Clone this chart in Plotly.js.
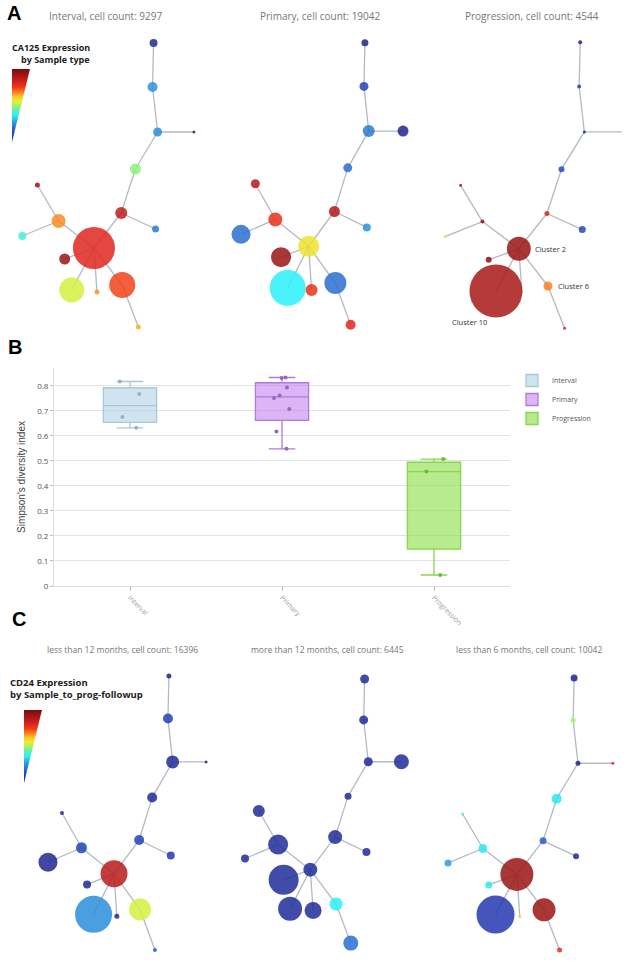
<!DOCTYPE html>
<html><head><meta charset="utf-8">
<script src="https://cdn.plot.ly/plotly-3.0.1.min.js"></script>
<style>html,body{margin:0;padding:0;background:#fff;} #chart{width:633px;height:964px;}</style>
</head><body><div id="chart"></div>
<script>
// ---------- shared tree layout (node positions) and topology ----------
const nodeX = [155,154,159,195,137,123,157,96,61,40,25,67,74,99,124,140];
const nodeY = [43,87,132,132,169,213,229,248,221,185,236,259,290,292,285,327];
const edgeFrom = [0,1,2,2,4,5,5,7,8,8,7,7,7,7,14];
const edgeTo   = [1,2,3,4,5,6,7,8,9,10,11,12,13,14,15];

// ---------- panel A: CA125 expression by sample type ----------
const panelATitles = ['Interval, cell count: 9297','Primary, cell count: 19042','Progression, cell count: 4544'];
const intervalSize    = [8,10,9,3,11,12,7,42,14,5,8,11,25,5,26,5];
const intervalExpr    = [0.05,0.26,0.25,0.02,0.48,0.86,0.22,0.80,0.67,0.93,0.40,0.93,0.54,0.66,0.74,0.64];
const primarySize     = [7,9,12,11,9,11,8,21,14,9,19,20,36,12,22,10];
const primaryExpr     = [0.03,0.12,0.22,0.04,0.20,0.88,0.26,0.58,0.77,0.88,0.20,0.93,0.36,0.77,0.20,0.80];
const progressionSize = [4,4,3,0,6,5,7,24,4,3,3,6,53,0,9,3];
const progressionExpr = [0.02,0.12,0.02,0.05,0.14,0.80,0.13,0.93,0.95,0.90,0.54,0.95,0.90,0.90,0.68,0.82];

// ---------- panel C: CD24 expression by sample-to-progression follow-up ----------
const panelCTitles = ['less than 12 months, cell count: 16396','more than 12 months, cell count: 6445','less than 6 months, cell count: 10042'];
const lt12Size = [5,10,13,3,10,10,8,27,11,4,19,8,37,5,22,4];
const lt12Expr = [0.03,0.12,0.05,0.03,0.06,0.12,0.10,0.87,0.12,0.03,0.04,0.05,0.25,0.05,0.54,0.16];
const gt12Size = [9,9,9,15,7,14,8,14,20,12,8,30,24,17,13,15];
const gt12Expr = [0.06,0.06,0.06,0.06,0.06,0.06,0.06,0.06,0.06,0.06,0.06,0.06,0.06,0.06,0.36,0.20];
const lt6Size  = [7,5,5,3,10,7,6,33,9,3,7,7,38,3,23,5];
const lt6Expr  = [0.03,0.50,0.03,0.80,0.35,0.17,0.05,0.93,0.35,0.42,0.28,0.35,0.10,0.60,0.93,0.78];

// ---------- panel B: Simpson's diversity index ----------
const boxCategories = ['Interval','Primary','Progression'];
const intervalSimpson    = [0.817,0.767,0.675,0.632];
const primarySimpson     = [0.831,0.833,0.793,0.761,0.751,0.707,0.617,0.548];
const progressionSimpson = [0.507,0.457,0.044];

// ---------- styling ----------
const W = 633, H = 964, CW = 211, CH = 345;
const jetScale = [
  [0.00,'#1c1c7a'],[0.10,'#2338b0'],[0.20,'#2a6fd0'],[0.28,'#2aa0e0'],
  [0.36,'#2af0f8'],[0.44,'#5ef0b0'],[0.50,'#a8f060'],[0.56,'#e8f030'],
  [0.62,'#f8c828'],[0.68,'#f88020'],[0.75,'#f03818'],[0.82,'#d82020'],
  [0.90,'#a81818'],[1.00,'#7a0c0c']];

function px2x(p){return p/W;}
function px2y(p){return 1-p/H;}

function netAxes(px0, py0, sx, sy){
  const dx0=Math.max(0,px0), dx1=Math.min(W,px0+CW*sx);
  const dy0=Math.max(0,py0), dy1=Math.min(H,py0+CH*sy);
  const hidden={visible:false,showgrid:false,zeroline:false,fixedrange:true};
  return {
    x:Object.assign({domain:[dx0/W,dx1/W],range:[(dx0-px0)/sx,(dx1-px0)/sx]},hidden),
    y:Object.assign({domain:[1-dy1/H,1-dy0/H],range:[(dy1-py0)/sy,(dy0-py0)/sy]},hidden)
  };
}

const panels = [
  {ax:'',  size:intervalSize,    expr:intervalExpr,    geo:[-3,0,1.01,1.0]},
  {ax:'2', size:primarySize,     expr:primaryExpr,     geo:[217.2,0,0.953,0.993]},
  {ax:'3', size:progressionSize, expr:progressionExpr, geo:[419,-1,1.04,1.007]},
  {ax:'5', size:lt12Size,        expr:lt12Expr,        geo:[24.75,634.5,0.93,0.965]},
  {ax:'6', size:gt12Size,        expr:gt12Expr,        geo:[222,639,0.92,0.93]},
  {ax:'7', size:lt6Size,         expr:lt6Expr,         geo:[423.75,636.8,0.97,0.958]}
];

const ex=[], ey=[];
edgeFrom.forEach((a,i)=>{const b=edgeTo[i]; ex.push(nodeX[a],nodeX[b],null); ey.push(nodeY[a],nodeY[b],null);});

const traces=[]; const layout={
  width:W,height:H,margin:{l:0,r:0,t:0,b:0},paper_bgcolor:'#fff',plot_bgcolor:'rgba(0,0,0,0)',
  font:{family:'Open Sans, sans-serif'},showlegend:true,boxmode:'overlay',boxgap:0.5,
  annotations:[]
};

panels.forEach(p=>{
  const g=netAxes(...p.geo);
  layout['xaxis'+p.ax]=g.x; layout['yaxis'+p.ax]=Object.assign(g.y,{anchor:'x'+p.ax});
  layout['xaxis'+p.ax].anchor='y'+p.ax;
  traces.push({type:'scatter',mode:'lines',x:ex,y:ey,xaxis:'x'+p.ax,yaxis:'y'+p.ax,
    line:{color:'rgba(168,178,190,0.9)',width:1.3},hoverinfo:'skip',showlegend:false,cliponaxis:false});
  traces.push({type:'scatter',mode:'markers',x:nodeX,y:nodeY,xaxis:'x'+p.ax,yaxis:'y'+p.ax,
    marker:{size:p.size,color:p.expr,colorscale:jetScale,cmin:0,cmax:1,opacity:0.85,line:{width:0}},
    showlegend:false,cliponaxis:false});
});

// ---------- box plot ----------
const boxStyles = [
  {line:'#a9c7da',fill:'rgba(170,205,225,0.55)',pt:'#94b4c6'},
  {line:'#b47ad6',fill:'rgba(190,120,238,0.55)',pt:'#9c66be'},
  {line:'#88d64c',fill:'rgba(135,222,65,0.6)',pt:'#6cbc34'}
];
[intervalSimpson,primarySimpson,progressionSimpson].forEach((vals,i)=>{
  traces.push({type:'box',name:boxCategories[i],y:vals,xaxis:'x4',yaxis:'y4',
    boxpoints:'all',jitter:0.45,pointpos:0,whiskerwidth:0.5,
    line:{color:boxStyles[i].line,width:1.3},fillcolor:boxStyles[i].fill,
    marker:{color:boxStyles[i].pt,size:4}});
});
layout.xaxis4={domain:[px2x(54),px2x(510)],anchor:'y4',type:'category',showgrid:false,
  ticks:'outside',ticklen:4,tickcolor:'#bbb',tickangle:45,tickfont:{size:7,color:'#999'},
  showline:true,linecolor:'#ddd',zeroline:false,fixedrange:true};
layout.yaxis4={domain:[px2y(586),px2y(368)],anchor:'x4',range:[0,0.871],dtick:0.1,tick0:0,
  gridcolor:'#e3e3e3',showline:true,linecolor:'#ddd',zeroline:false,ticks:'outside',ticklen:3,
  tickcolor:'#bbb',tickfont:{size:8,color:'#555'},fixedrange:true};
layout.legend={x:px2x(512),y:px2y(366),xanchor:'left',yanchor:'top',font:{size:7,color:'#555'},
  bgcolor:'rgba(0,0,0,0)',tracegroupgap:0,itemwidth:30};

// ---------- gradient triangles (colour keys) ----------
function triAxes(n,x0,x1,y0,y1){
  layout['xaxis'+n]={domain:[px2x(x0),px2x(x1)],range:[0,1],visible:false,anchor:'y'+n,fixedrange:true};
  layout['yaxis'+n]={domain:[px2y(y1),px2y(y0)],range:[0,1],visible:false,anchor:'x'+n,fixedrange:true};
  traces.push({type:'scatter',mode:'lines',x:[0,1,0,0],y:[1,1,0,1],fill:'toself',
    fillgradient:{type:'vertical',colorscale:jetScale},line:{width:0},
    xaxis:'x'+n,yaxis:'y'+n,hoverinfo:'skip',showlegend:false});
}
triAxes(8,12,30,69,142);
triAxes(9,24,42,710,783);

// ---------- text ----------
function ann(text,x,y,opts){layout.annotations.push(Object.assign({text:text,x:px2x(x),y:px2y(y),xref:'paper',yref:'paper',showarrow:false,xanchor:'center',yanchor:'middle'},opts||{}));}
const titleFontA={family:'Open Sans, sans-serif',size:10,color:'#777'};
const titleFontC={family:'Open Sans, sans-serif',size:8.5,color:'#777'};
[106,320,532].forEach((cx,i)=>ann(panelATitles[i],cx,16,{font:titleFontA}));
[122,328,529].forEach((cx,i)=>ann(panelCTitles[i],cx,649,{font:titleFontC}));
const panelFont={family:'Liberation Sans, Arial, sans-serif',size:20,color:'#000'};
ann('<b>A</b>',5,13,{xanchor:'left',font:panelFont});
ann('<b>B</b>',6,347,{xanchor:'left',font:panelFont});
ann('<b>C</b>',10,619,{xanchor:'left',font:panelFont});
const keyFontA={family:'Open Sans, sans-serif',size:9,color:'#222'};
const keyFontC={family:'Open Sans, sans-serif',size:9.5,color:'#222'};
ann('<b>CA125 Expression</b>',92,47,{xanchor:'right',font:keyFontA});
ann('<b>by Sample type</b>',92,59,{xanchor:'right',font:keyFontA});
ann('<b>CD24 Expression</b>',8,682,{xanchor:'left',font:keyFontC});
ann('<b>by Sample_to_prog-followup</b>',8,694,{xanchor:'left',font:keyFontC});
ann("Simpson's diversity index",21,477,{textangle:-90,font:{family:'Liberation Sans, Arial, sans-serif',size:10,color:'#444'}});
// cluster labels in the Progression network
const clFont={family:'Open Sans, sans-serif',size:7.5,color:'#333'};
layout.annotations.push({text:'Cluster 2',x:nodeX[7],y:nodeY[7],xref:'x3',yref:'y3',showarrow:false,xanchor:'left',xshift:14,font:clFont});
layout.annotations.push({text:'Cluster 6',x:nodeX[14],y:nodeY[14],xref:'x3',yref:'y3',showarrow:false,xanchor:'left',xshift:8,font:clFont});
layout.annotations.push({text:'Cluster 10',x:nodeX[12],y:nodeY[12],xref:'x3',yref:'y3',showarrow:false,xanchor:'center',xshift:-26,yshift:-31,font:clFont});

Plotly.newPlot('chart',traces,layout,{staticPlot:true,displayModeBar:false});
</script></body></html>
